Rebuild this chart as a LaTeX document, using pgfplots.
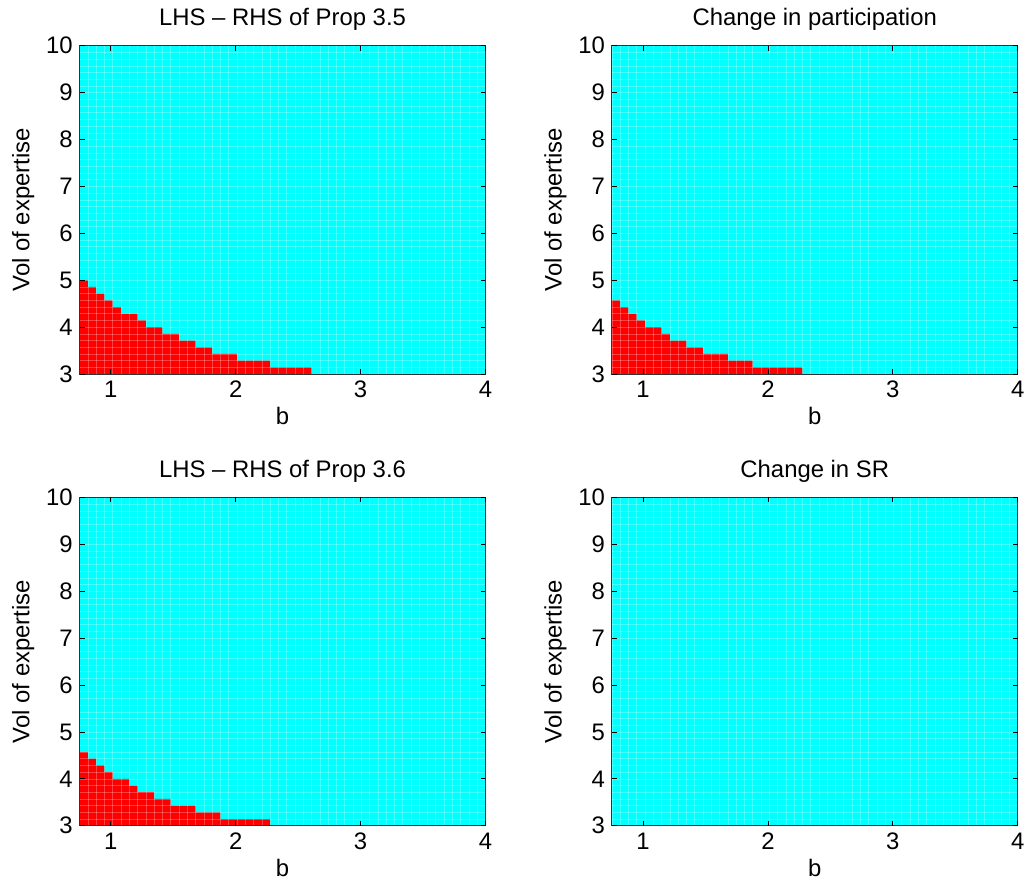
\documentclass[border=0pt]{standalone}
\usepackage{pgfplots}
\pgfplotsset{compat=1.18}
\usepackage{fontspec}
\setmainfont{Liberation Sans}
\definecolor{mcyan}{RGB}{0,255,255}
\definecolor{mred}{RGB}{255,0,0}

% staircase boundaries of the red region (b, vol)
\pgfplotsset{
  panel/.style={
    scale only axis, width=204pt, height=165pt,
    anchor=south west,
    xmin=0.75, xmax=4, ymin=3, ymax=10,
    axis background/.style={fill=mcyan},
    axis on top,
    font=\fontsize{12}{14}\selectfont,
    xtick={0.75,0.816327,...,4.01}, xticklabel=\empty,
    ytick={3,3.142857,...,10.01}, yticklabel=\empty,
    major tick length=0pt,
    grid=major,
    grid style={white, opacity=0.25, line width=0.3pt},
    extra x ticks={1,2,3,4}, extra x tick labels={1,2,3,4},
    extra y ticks={3,4,5,6,7,8,9,10}, extra y tick labels={3,4,5,6,7,8,9,10},
    extra tick style={grid=none, major tick length=2.5pt, tick style={black, line width=0.4pt}},
    xlabel={b}, ylabel={Vol of expertise},
    xlabel style={yshift=2pt},
    ylabel style={yshift=-1pt},
    title style={yshift=-2pt},
    axis line style={black!80, line width=0.5pt},
  },
}

\begin{document}
\begin{tikzpicture}
\path (0,0) rectangle (515.5pt,447.5pt);

\begin{axis}[panel, at={(40pt,259.5pt)}, title={LHS – RHS of Prop 3.5}]
\addplot[fill=mred, draw=none, const plot] coordinates {
 (0.75,5) (0.8163,4.8571) (0.8827,4.7143) (0.9490,4.5714) (1.0153,4.4286)
 (1.0816,4.2857) (1.2143,4.1429) (1.2806,4.0) (1.4133,3.8571) (1.5459,3.7143)
 (1.6786,3.5714) (1.8112,3.4286) (2.0102,3.2857) (2.2755,3.1429) (2.6071,3)
} \closedcycle;
\end{axis}

\begin{axis}[panel, at={(307.5pt,259.5pt)}, title={Change in participation}]
\addplot[fill=mred, draw=none, const plot] coordinates {
 (0.75,4.5714) (0.8163,4.4286) (0.8827,4.2857) (0.9490,4.1429) (1.0153,4.0)
 (1.1480,3.8571) (1.2143,3.7143) (1.3469,3.5714) (1.4796,3.4286)
 (1.6786,3.2857) (1.8776,3.1429) (2.2755,3)
} \closedcycle;
\end{axis}

\begin{axis}[panel, at={(40pt,32.5pt)}, title={LHS – RHS of Prop 3.6}]
\addplot[fill=mred, draw=none, const plot] coordinates {
 (0.75,4.5714) (0.8163,4.4286) (0.8827,4.2857) (0.9490,4.1429) (1.0153,4.0)
 (1.1480,3.8571) (1.2143,3.7143) (1.3469,3.5714) (1.4796,3.4286)
 (1.6786,3.2857) (1.8776,3.1429) (2.2755,3)
} \closedcycle;
\end{axis}

\begin{axis}[panel, at={(307.5pt,32.5pt)}, title={Change in SR}]
\end{axis}
\end{tikzpicture}
\end{document}
